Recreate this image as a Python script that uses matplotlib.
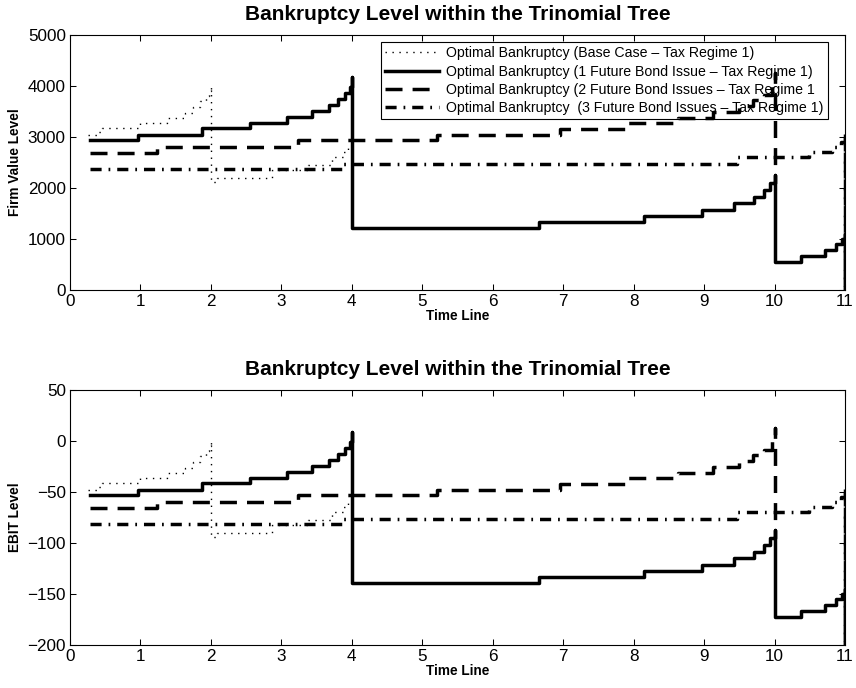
import numpy as np
import matplotlib
matplotlib.use("Agg")
import matplotlib.pyplot as plt

plt.rcParams['font.family'] = ['Liberation Sans', 'DejaVu Sans']

nan = np.nan

# step start times (years) and bankruptcy levels
base_t = [0.26, 0.38, 0.45, 0.99, 1.37, 1.63, 1.75, 1.84, 1.93, 1.97, 2.0, 2.0,
          2.08, 2.86, 3.38, 3.72, 3.88, 3.95, 4.0]
base_firm = [3040, 3105, 3175, 3270, 3370, 3470, 3580, 3700, 3800, 3900, 4000, 2125,
             2190, 2355, 2450, 2615, 2710, 2830, 2950]
base_ebit = [-48.0, -44.8, -41.2, -36.5, -31.5, -26.5, -21.0, -15.0, -10.0, -5.0, 0.0, -93.8,
             -90.5, -82.2, -77.5, -69.2, -64.5, -58.5, -52.5]

one_t = [0.28, 0.97, 1.87, 2.55, 3.08, 3.43, 3.67, 3.81, 3.91, 3.97, 4.0, 4.0,
         6.65, 8.14, 8.97, 9.42, 9.71, 9.85, 9.94, 10.0, 10.0,
         10.37, 10.72, 10.87, 10.96, 11.0, 11.0]
one_firm = [2940, 3040, 3170, 3280, 3390, 3515, 3630, 3740, 3860, 3990, 4180, 1220,
            1340, 1450, 1570, 1700, 1830, 1960, 2100, 2250, 540,
            660, 790, 910, 1000, 1100, 0]
one_ebit = [-53.0, -48.0, -41.5, -36.0, -30.5, -24.2, -18.5, -13.0, -7.0, -0.5, 9.0, -139.0,
            -133.0, -127.5, -121.5, -115.0, -108.5, -102.0, -95.0, -87.5, -173.0,
            -167.0, -160.5, -154.5, -150.0, -145.0, -200.0]

two_t = [0.28, 1.23, 3.24, 5.21, 6.96, 7.91, 8.63, 9.12, 9.50, 9.70, 9.85, 9.96,
         10.0, 10.0, 10.0, 11.0, 11.0]
two_firm = [2695, 2810, 2935, 3040, 3160, 3270, 3380, 3490, 3610, 3720, 3830, 4000,
            4250, 2400, nan, 3050, 0]
two_ebit = [-65.2, -59.5, -53.2, -48.0, -42.0, -36.5, -31.0, -25.5, -19.5, -14.0, -8.5, 0.0,
            12.5, -80.0, nan, -47.5, -200.0]

three_t = [0.28, 3.86, 9.47, 10.49, 10.82, 10.95, 11.0, 11.0]
three_firm = [2370, 2470, 2610, 2710, 2800, 2900, 3000, 0]
three_ebit = [-81.5, -76.5, -69.5, -64.5, -60.0, -55.0, -50.0, -200.0]

labels = ['Optimal Bankruptcy (Base Case \u2013 Tax Regime 1)',
          'Optimal Bankruptcy (1 Future Bond Issue \u2013 Tax Regime 1)',
          'Optimal Bankruptcy (2 Future Bond Issues \u2013 Tax Regime 1',
          'Optimal Bankruptcy  (3 Future Bond Issues \u2013 Tax Regime 1)']

title = 'Bankruptcy Level within the Trinomial Tree'

styles = [dict(color='black', lw=1.0, ls=(0, (1, 4))),
          dict(color='black', lw=2.5, ls='-'),
          dict(color='black', lw=2.5, ls=(0, (4.9, 2.9))),
          dict(color='black', lw=2.5, ls=(0, (3.2, 2.0, 0.5, 2.0)))]

fig = plt.figure(figsize=(8.56, 6.88), dpi=100)
ax1 = fig.add_axes([70 / 856, 1 - 290 / 688, 775 / 856, 255 / 688])
ax2 = fig.add_axes([70 / 856, 1 - 645 / 688, 775 / 856, 255 / 688])

series_top = [(base_t, base_firm), (one_t, one_firm), (two_t, two_firm), (three_t, three_firm)]
series_bot = [(base_t, base_ebit), (one_t, one_ebit), (two_t, two_ebit), (three_t, three_ebit)]

for ax, series, ylim, yticks, ylabel in [
        (ax1, series_top, (0, 5000), np.arange(0, 5001, 1000), 'Firm Value Level'),
        (ax2, series_bot, (-200, 50), np.arange(-200, 51, 50), 'EBIT Level')]:
    for (t, v), st, lab in zip(series, styles, labels):
        ax.plot(t, v, drawstyle='steps-post', label=lab, zorder=3, **st)
    ax.set_xlim(0, 11)
    ax.set_ylim(*ylim)
    ax.set_xticks(np.arange(0, 12, 1))
    ax.set_yticks(yticks)
    ax.tick_params(direction='in', top=True, right=True, length=4, width=0.75,
                   labelsize=12.3, pad=3)
    for sp in ax.spines.values():
        sp.set_linewidth(0.8)
    ax.set_title(title, fontsize=15, fontweight='bold', pad=11)
    ax.set_xlabel('Time Line', fontsize=9.8, fontweight='bold', labelpad=0)
    ax.set_ylabel(ylabel, fontsize=9.8, fontweight='bold', labelpad=4)

leg = ax1.legend(loc='upper right', bbox_to_anchor=(758 / 775, 248 / 255),
                 borderaxespad=0, fontsize=10.2, fancybox=False, framealpha=1,
                 edgecolor='black', handlelength=3.8, handletextpad=0.5,
                 labelspacing=0.3, borderpad=0.3)
leg.get_frame().set_linewidth(0.8)
leg.set_zorder(2)

fig.savefig('out.png', dpi=100)
